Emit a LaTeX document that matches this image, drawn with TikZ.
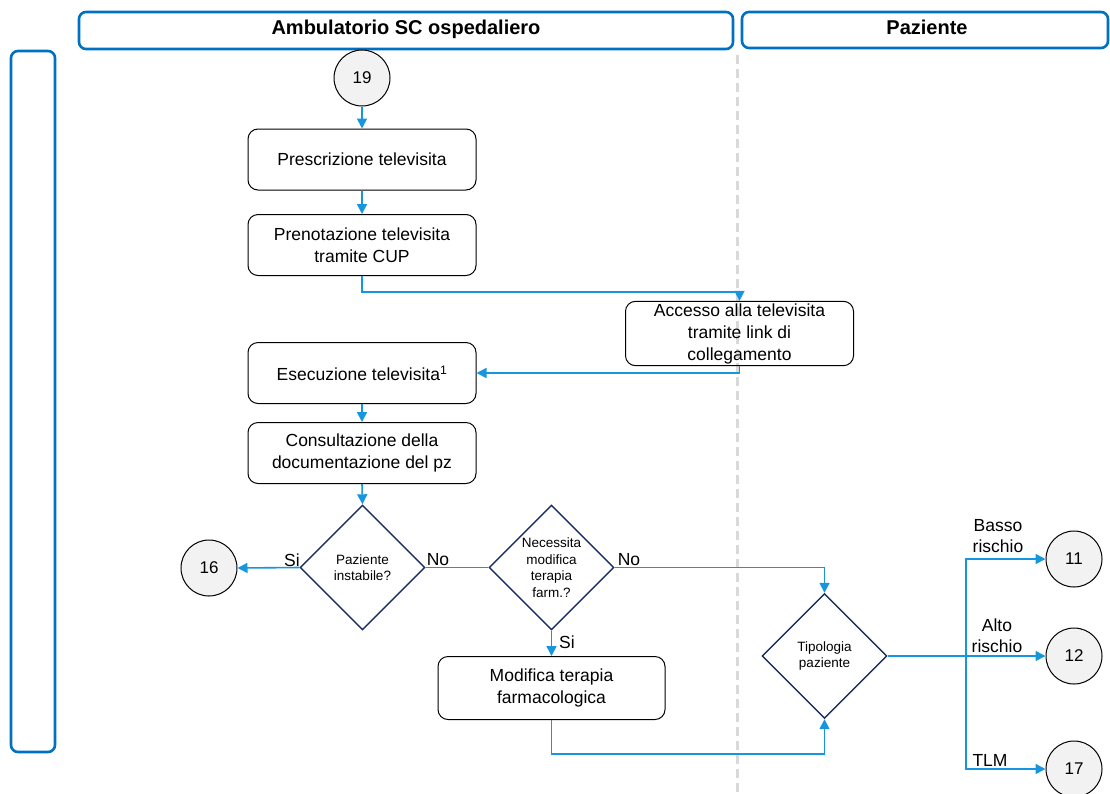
\documentclass[tikz,border=0pt]{standalone}
\usepackage{fontspec}
\setmainfont{Liberation Sans}
\usetikzlibrary{arrows.meta,shapes.geometric}
\definecolor{hdrblue}{RGB}{0,112,192}
\definecolor{flowblue}{RGB}{22,150,222}
\definecolor{navy}{RGB}{28,48,96}
\definecolor{lanegray}{RGB}{217,217,217}
\definecolor{circfill}{RGB}{242,242,242}
\begin{document}
\begin{tikzpicture}[x=1pt,y=-1pt,
  lanehead/.style={draw=hdrblue, line width=2.6pt, rounded corners=7pt},
  headtext/.style={font=\bfseries\fontsize{20}{24}\selectfont, inner sep=0pt},
  procbox/.style={draw=black, line width=1pt, rounded corners=10pt,
    minimum width=228pt, minimum height=61pt, align=center, inner sep=2pt,
    font=\fontsize{17.5}{22}\selectfont},
  decision/.style={diamond, draw=navy, line width=1.4pt, minimum width=125pt,
    minimum height=125pt, inner sep=0pt, align=center,
    font=\fontsize{13.5}{16.5}\selectfont},
  offpage/.style={circle, draw=black, line width=1pt, fill=circfill,
    minimum size=56pt, inner sep=0pt, font=\fontsize{17}{20}\selectfont},
  flow/.style={draw=flowblue, line width=1.6pt, -{Triangle[length=10pt,width=10pt]}},
  link/.style={draw=flowblue, line width=1.6pt},
  lbl/.style={font=\fontsize{17.5}{21}\selectfont, inner sep=0pt, align=center},
]
\useasboundingbox (0,0) rectangle (1110,793);

% swimlane headers and left band
\draw[lanehead] (79,12) rectangle (733,49);
\draw[lanehead] (742,12) rectangle (1108,48);
\draw[lanehead] (11,51) rectangle (55,752);
\node[headtext] (hamb) at (406,29) {Ambulatorio SC ospedaliero};
\node[headtext] (hpaz) at (927,27) {Paziente};

% lane divider
\draw[lanegray, line width=3pt, dash pattern=on 9pt off 5pt] (737,55) -- (737,793);

% process steps
\node[offpage] (c19) at (362,78) {19};
\node[procbox] (presc) at (362,159.5) {Prescrizione televisita};
\node[procbox] (preno) at (362,245) {Prenotazione televisita\\tramite CUP};
\node[procbox, minimum height=62pt] (acc) at (739.5,333.5) {Accesso alla televisita\\tramite link di\\collegamento};
\node[procbox] (ese) at (362,373) {Esecuzione televisita\textsuperscript{1}};
\node[procbox] (cons) at (362,453) {Consultazione della\\documentazione del pz};

% decisions
\node[decision] (dpaz) at (362.5,567.5) {Paziente\\instabile?};
\node[decision] (dnec) at (551.5,567.5) {Necessita\\modifica\\terapia\\farm.?};
\node[offpage] (c16) at (209,568) {16};
\node[procbox, minimum width=227pt, minimum height=63pt] (mod) at (551.5,688) {Modifica terapia\\farmacologica};
\node[decision] (dtip) at (824.5,656) {Tipologia\\paziente};

% exit connectors
\node[offpage] (c11) at (1074,559) {11};
\node[offpage] (c12) at (1074,656) {12};
\node[offpage] (c17) at (1074,769) {17};
\coordinate (split) at (966,656);

% flow lines
\draw[flow] (c19.south) -- (presc.north);
\draw[flow] (presc.south) -- (preno.north);
\draw[flow] (preno.south) -- ++(0,16) -| (acc.north);
\draw[flow] (acc.south) |- (ese.east);
\draw[flow] (ese.south) -- (cons.north);
\draw[flow] (cons.south) -- (dpaz.north);
\draw[flow] (dpaz.west) -- (c16.east);
\draw[link] (dpaz.east) -- (dnec.west);
\draw[flow] (dnec.east) -| (dtip.north);
\draw[flow] (dnec.south) -- (mod.north);
\draw[flow] (mod.south) -- ++(0,34) -| (dtip.south);
\draw[link] (dtip.east) -- (split);
\draw[flow] (split) |- (c11.west);
\draw[flow] (split) -- (c12.west);
\draw[flow] (split) |- (c17.west);

% branch labels
\node[lbl] (lsi1) at (292,560) {Si};
\node[lbl] (lno1) at (438,560) {No};
\node[lbl] (lno2) at (629,560) {No};
\node[lbl] (lsi2) at (567,642) {Si};
\node[lbl] (lbasso) at (998,536) {Basso\\rischio};
\node[lbl] (lalto) at (997,636) {Alto\\rischio};
\node[lbl] (ltlm) at (990,760) {TLM};
\end{tikzpicture}
\end{document}
